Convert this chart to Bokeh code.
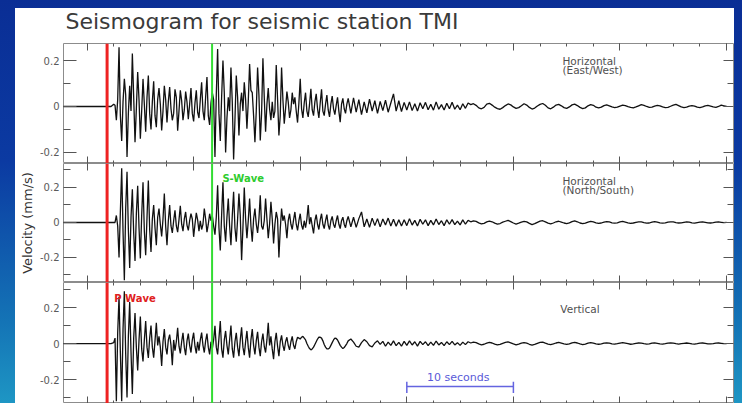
import numpy as np
from bokeh.plotting import figure
from bokeh.layouts import column
from bokeh.models import (Range1d, LinearAxis, FixedTicker, SingleIntervalTicker,
                          Span, Label, ColumnDataSource, CustomLabelingPolicy)
from bokeh.embed import file_html
from bokeh.resources import INLINE

# ---------------- data ----------------
title_text = "Seismogram for seismic station TMI"
y_axis_title = "Velocity (mm/s)"
component_names = [["Horizontal", "(East/West)"], ["Horizontal", "(North/South)"], ["Vertical"]]
phase_labels = ["P Wave", "S-Wave"]
scale_bar_label = "10 seconds"

p_arrival_s = 1.88
s_arrival_s = 11.73
scale_bar_s = [30, 40]

y_major_ticks = [-0.2, 0, 0.2]
y_minor_ticks = [-0.3, -0.1, 0.1, 0.3]
y_tick_labels = {-0.2: "-0.2", 0: "0", 0.2: "0.2"}

# sampling: quiet part before the event (0.25 s), strong motion (0.125 s), coda (0.25 s)
pre_event_start_s, pre_event_step_s = -2.25, 0.25
strong_start_s, strong_step_s = 2.5, 0.125
coda_start_s, coda_step_s = 24.75, 0.25

# velocities in micrometres per second
pre_event_um_s = [0, 0, 0, 0, 0, 0, 0, 0, 0, 0, 0, 0, 0, 0, 0, 0, 0, 0, 0]

east_west_strong_um_s = [
    10, 5, -60, 30, 258, -40, -150, 20, 120, 50, -220, -30, 90, -20, 230, 40,
    -155, -10, 150, 30, -140, -20, 120, 10, -110, 40, 135, -30, -100, 20, 110, -40,
    -90, 30, 80, 10, -104, -20, 90, 30, -70, 20, 85, -10, -60, -30, 75, 40,
    -105, -20, 70, 25, -60, -15, 65, 20, -55, 10, 80, -30, -65, 15, 70, -25,
    -50, 30, 105, -20, -60, 40, 128, -40, -80, 15, 60, 30, -220, 50, 250, -30,
    -150, 40, 200, 60, -200, -50, 40, -20, 170, 20, -230, -60, 135, 40, -126, 10,
    60, -20, 105, 30, -97, 20, 185, 70, 60, -40, -155, -20, 170, 50, -148, -30,
    210, 40, -110, 10, 80, -10, -60, 20, -50, -20, 180, 30, -126, -40, 170, 30,
    -75, -10, 65, 20, -50, -15, 60, 10, 40, -20, -70, 15, 120, -10, -50, 15,
    60, -20, -45, 10, 77, -15, -40, 20, 55, -10, -50, 15, 75, -20, -40, 10,
    50, -15, -45, 10, 45, -10, -35, 5, 40, -20, -68, 10, 35, -10, -30, 10, 35,
]
east_west_coda_um_s = [
    -30, 38, -25, 30, -35, 20, -28, 32, -20, 25, -30, 22, -18, 28, -25, 15, 55, -20, 25,
    -22, 18, -15, 20, -18, 12, -20, 16, -10, 18, -14, 10, -16, 20, -12, 8, -15, 14, -10, 18,
    -12, 6, -14, 12, -8, 15,
    8, 12, 5, -6, -10, -4, 10, 14, 6, -3, -9, -12, -5, 4, 11, 7, -2, -8, -5, 3,
    12, 6, -4, -11, -7, 2, 9, 13, 5, -6, -10, -3, 6, 9, 3, -5, -8, -2, 7, 10,
    4, -4, -9, -6, 3, 8, 5, -3,
    -6, -3, 4, 7, 3, -2, -5, -3, 2, 6, 4, -1, -4, -6, -2, 3, 8, 5, 0, -4,
    -3, 2, 5, 3, -2, -5, -4, 1, 6, 9, 4, -2, -5, -3, 2, 4, 2, -3, -5, -2,
    3, 5, 2, -2, -4, 0, 6, 3, 0,
]

north_south_strong_um_s = [
    0, 0, 40, -20, -200, 60, 310, -50, -330, 80, 290, -40, -260, 30, 190, -60,
    -220, 50, 210, -30, -205, 40, 230, -50, -187, 30, 240, -40, -168, 20, 100, -30,
    -130, 30, 80, -10, -80, 20, 165, -20, -130, 10, 100, -20, -60, 10, 70, -20,
    -55, 15, 95, -10, -50, 20, 60, -15, -45, 10, 50, 20, -82, -10, 55, 15,
    -50, 10, -40, -10, 80, 20, -55, -10, 50, 10, 40, -20, -70, 30, 213, -30,
    -160, 40, 230, -20, -110, 30, 137, -20, -130, 40, 175, -30, -110, 20, 165, 40,
    -215, -30, 200, 20, -90, 10, 137, -20, -110, 20, 80, -10, -60, 20, 155, -20,
    -40, 10, 137, 20, -90, -10, 118, 20, -120, -10, 60, 20, -200, -40, 80, 10,
    40, -10, -90, 10, 50, -10, -40, 15, 60, -10, -45, 10, 50, -15, -40, 10,
    -30, 20, 100, -10, 30, -20, -63, 10, 45, -10, -40, 15, 50, -10, -35, 10,
    45, -15, -40, 10, 35, -10, -30, 10, 40, -10, -35, 10, 30, -10, -30, 10, 35,
]
north_south_coda_um_s = [
    -25, 30, -28, 22, 60, -25, 20, -28, 25, -18, 22, -25, 20, -15, 25, -20, 18, -22, 15,
    -20, 15, -18, 22, -15, 12, -20, 18, -10, 15, -18, 12, -14, 20, -12, 10, -18, 15, -10, 16,
    -12, 8, -14, 15, -10, 12,
    4, 9, 6, -2, -8, -5, 3, 8, 4, -4, -10, -6, 2, 7, 12, 5, -3, -9, -4, 2,
    6, 3, -5, -12, -7, 1, 8, 10, 3, -4, -8, -3, 4, 7, 2, -3, -6, -2, 5, 9,
    4, -3, -7, -4, 2, 6, 3, -2,
    -5, -3, 2, 5, 3, -2, -4, -2, 3, 6, 2, -2, -5, -3, 1, 4, 3, -1, -4, -3,
    2, 5, 2, -2, -4, -2, 2, 4, 3, -1, -3, -2, 1, 3, 2, -2, -4, -1, 2, 4,
    1, -2, -3, -1, 2, 3, 1, -1, 0,
]

vertical_strong_um_s = [
    5, 30, -320, 60, 260, -50, -320, 80, 290, -60, -300, 40, 230, -50, -280, 30,
    170, -20, -150, 20, 150, -30, -100, 20, 125, -20, -80, 30, 100, -20, -78, 15,
    115, -10, 40, -20, -125, 10, 80, -20, -60, 20, 50, -10, -120, 20, -40, 10,
    88, -15, -55, 10, 60, -20, -65, 15, 55, -10, -50, 20, 60, -15, -55, 10,
    -40, 20, 61, -10, -50, 15, 55, -20, -60, 10, -30, 20, 98, -20, -60, 30,
    125, -30, -78, 20, 70, -10, -60, 20, 100, -30, -78, 10, 60, -20, -70, 20,
    90, -20, -65, 10, 70, -20, -78, 20, 80, -10, -60, 15, 65, -20, -70, 10,
    55, -15, -50, 20, 115, -10, 40, -30, -87, 10, 60, -15, -70, 10, 45, -10,
    -40, 10, 35, -10, -35, 10, 40, -10, -30, 10, 35, 30, 25, 35, 40, 30,
    20, 0, -15, -28, -35, -30, -20, -5, 10, 25, 35, 35, 30, 15, -5, -20,
    -30, -30, -25, -10, 5, 20, 30, 28, 20, 5, -10, -20, -28, -22, -12, 0, 15,
]
vertical_coda_um_s = [
    25, 8, -15, -20, 5, 22, 10, -12, -18, 3, 15, -5, 12, -15, 8, -10, 15, -12, 6,
    -15, 12, -10, 15, -8, 10, -14, 12, -6, 10, -12, 8, -10, 14, -8, 6, -12, 10, -6, 12,
    -8, 5, -10, 8, -6, 10,
    3, 8, 5, -2, -7, -4, 2, 7, 3, -3, -8, -5, 1, 6, 9, 4, -2, -7, -3, 2,
    5, 2, -4, -9, -5, 1, 6, 8, 2, -3, -6, -2, 3, 6, 2, -2, -5, -2, 4, 7,
    3, -2, -6, -3, 2, 5, 2, -2,
    -4, -2, 2, 4, 2, -2, -3, -1, 2, 5, 2, -1, -4, -2, 1, 3, 2, -1, -3, -2,
    2, 4, 1, -2, -3, -1, 2, 3, 2, -1, -3, -1, 1, 3, 1, -2, -3, -1, 2, 3,
    1, -2, -2, -1, 2, 3, 1, -1, 0,
]

traces = [
    (east_west_strong_um_s, east_west_coda_um_s),
    (north_south_strong_um_s, north_south_coda_um_s),
    (vertical_strong_um_s, vertical_coda_um_s),
]

# ---------------- layout / style ----------------
FONT = "DejaVu Sans"
x_range = Range1d(-2.21, 60.65)
panel_specs = [
    # (figure height, y range)
    (120, (-0.248, 0.274)),
    (119, (-0.343, 0.337)),
    (121, (-0.333, 0.339)),
]
TICK = "#555555"

no_labels = CustomLabelingPolicy(code="""
for (const i of indices) { indices.unset(i) }
return indices
""")


def ticks_only(ax, major_in, minor_in):
    ax.axis_line_color = None
    ax.major_tick_in = major_in
    ax.major_tick_out = 0
    ax.minor_tick_in = minor_in
    ax.minor_tick_out = 0
    ax.major_tick_line_color = TICK
    ax.minor_tick_line_color = TICK
    ax.major_label_policy = no_labels
    ax.major_label_text_font_size = "0px"
    ax.major_label_standoff = 0


def sample_times(start, step, n):
    return start + step * np.arange(n)


# title strip (a figure that only carries the title)
title_fig = figure(width=719, height=35, x_range=x_range, y_range=Range1d(0, 1),
                   output_backend="svg", toolbar_location=None,
                   x_axis_location=None, y_axis_location=None,
                   min_border_left=48, min_border_right=1,
                   min_border_top=0, min_border_bottom=0,
                   outline_line_color=None,
                   background_fill_color="white", border_fill_color="white")
title_fig.xgrid.grid_line_color = None
title_fig.ygrid.grid_line_color = None
title_fig.title.text = title_text
title_fig.title.align = "left"
title_fig.title.vertical_align = "top"
title_fig.title.offset = 2
title_fig.title.standoff = 0
title_fig.title.text_font = FONT
title_fig.title.text_font_size = "22px"
title_fig.title.text_font_style = "normal"
title_fig.title.text_color = "#3a3a3a"

figs = []
for k, (h, yr) in enumerate(panel_specs):
    p = figure(width=719, height=h, x_range=x_range, y_range=Range1d(*yr),
               output_backend="svg", toolbar_location=None,
               x_axis_location=None, y_axis_location=None,
               min_border_left=48, min_border_right=1,
               min_border_top=0, min_border_bottom=0,
               outline_line_color="#8c8c8c", outline_line_width=1,
               background_fill_color="white", border_fill_color="white")
    p.xgrid.grid_line_color = None
    p.ygrid.grid_line_color = None

    for side in ("above", "below"):
        ax = LinearAxis(ticker=SingleIntervalTicker(interval=10, num_minor_ticks=4))
        ticks_only(ax, 7, 3)
        p.add_layout(ax, side)

    yl = LinearAxis(ticker=FixedTicker(ticks=y_major_ticks, minor_ticks=y_minor_ticks),
                    major_label_overrides=y_tick_labels)
    yl.axis_line_color = None
    yl.major_tick_in = 13
    yl.major_tick_out = 0
    yl.minor_tick_in = 7
    yl.minor_tick_out = 0
    yl.major_tick_line_color = TICK
    yl.minor_tick_line_color = TICK
    yl.major_label_text_font = FONT
    yl.major_label_text_font_size = "10px"
    yl.major_label_text_color = "#5a5a5a"
    yl.major_label_standoff = 4
    if k == 1:
        yl.axis_label = y_axis_title
        yl.axis_label_text_font = FONT
        yl.axis_label_text_font_size = "13px"
        yl.axis_label_text_font_style = "normal"
        yl.axis_label_text_color = "#333333"
        yl.axis_label_standoff = 2
    p.add_layout(yl, "left")

    yr_ax = LinearAxis(ticker=FixedTicker(ticks=y_major_ticks, minor_ticks=y_minor_ticks))
    ticks_only(yr_ax, 10, 6)
    p.add_layout(yr_ax, "right")

    strong, coda = traces[k]
    t = np.concatenate([
        sample_times(pre_event_start_s, pre_event_step_s, len(pre_event_um_s)),
        sample_times(strong_start_s, strong_step_s, len(strong)),
        sample_times(coda_start_s, coda_step_s, len(coda)),
    ])
    v = np.array(pre_event_um_s + strong + coda) / 1000.0
    src = ColumnDataSource(dict(t=t, v=v))
    p.line("t", "v", source=src, line_color="#111111", line_width=1.3)

    p.add_layout(Span(location=p_arrival_s, dimension="height",
                      line_color="#ee2222", line_width=3))
    p.add_layout(Span(location=s_arrival_s, dimension="height",
                      line_color="#33dd33", line_width=2))
    figs.append(p)

p1, p2, p3 = figs

# component names (alphabetic baselines)
name_pos = [(44.6, [0.196, 0.157]), (44.6, [0.238, 0.187]), (44.4, [0.194])]
for p, names, (nx, nys) in zip(figs, component_names, name_pos):
    for txt, ny in zip(names, nys):
        p.add_layout(Label(x=nx, y=ny, text=txt, text_font=FONT, text_font_size="10.5px",
                           text_color="#505050", text_baseline="alphabetic",
                           text_align="left"))

# phase labels
p3.add_layout(Label(x=2.55, y=0.25, text=phase_labels[0], text_font=FONT,
                    text_font_size="10px", text_font_style="bold",
                    text_color="#e02020", text_baseline="alphabetic"))
p2.add_layout(Label(x=12.7, y=0.251, text=phase_labels[1], text_font=FONT,
                    text_font_size="10px", text_font_style="bold",
                    text_color="#2ecc2e", text_baseline="alphabetic"))

# 10-second scale bar
bar_y = -0.239
p3.segment(x0=[scale_bar_s[0]], x1=[scale_bar_s[1]], y0=[bar_y], y1=[bar_y],
           line_color="#6464e0", line_width=1.5)
p3.segment(x0=scale_bar_s, x1=scale_bar_s, y0=[-0.212, -0.212], y1=[-0.275, -0.275],
           line_color="#6464e0", line_width=1.5)
p3.add_layout(Label(x=scale_bar_s[0] + 1.9, y=-0.187, text=scale_bar_label, text_font=FONT,
                    text_font_size="11px", text_color="#5a5ad8",
                    text_baseline="alphabetic"))

layout = column(title_fig, p1, p2, p3, styles={"background-color": "#ffffff"})

html = file_html(layout, INLINE, title="Seismogram for seismic station TMI")
css = ("<style>html{background:linear-gradient(to bottom,#0a2e95 0%,#0b3aa2 40%,"
       "#1474b6 80%,#1e96c4 100%);min-height:100%;overflow:hidden;}"
       "body{margin:8px 8px 0 15px;}"
       "body > div > div{background:#ffffff;}</style>")
html = html.replace("</head>", css + "</head>", 1)
open("out.html", "w").write(html)
